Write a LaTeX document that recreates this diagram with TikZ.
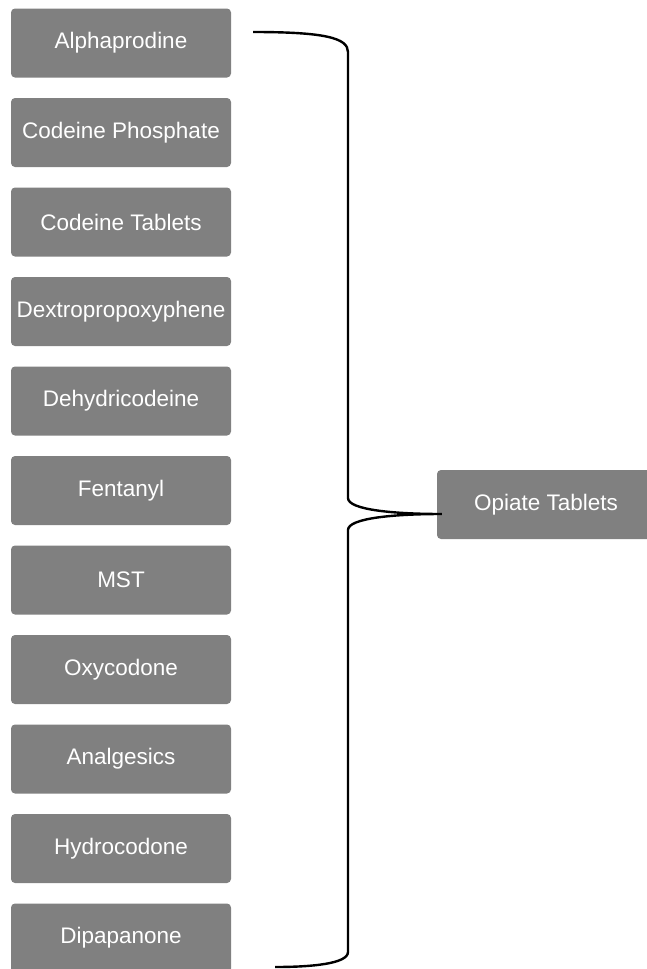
\documentclass[tikz,border=0pt]{standalone}
\usepackage{fontspec}
\setmainfont{Liberation Sans}
\begin{document}
\begin{tikzpicture}[x=1pt,y=-1pt,
  item/.style={fill=black!50, rounded corners=4pt, minimum width=220pt, minimum height=69pt,
    inner sep=0pt, text=white, font=\fontsize{22.5}{25}\selectfont, anchor=center},
  brace/.style={draw=black, line width=2.4pt}]
\useasboundingbox (0,0) rectangle (647,969);
\clip (0,0) rectangle (647,969);
\node[item] (a1) at (121,43) {Alphaprodine};
\node[item] (a2) at (121,132.5) {Codeine Phosphate};
\node[item] (a3) at (121,222) {Codeine Tablets};
\node[item] (a4) at (121,311.5) {Dextropropoxyphene};
\node[item] (a5) at (121,401) {Dehydricodeine};
\node[item] (a6) at (121,490.5) {Fentanyl};
\node[item] (a7) at (121,580) {MST};
\node[item] (a8) at (121,669.5) {Oxycodone};
\node[item] (a9) at (121,759) {Analgesics};
\node[item] (a10) at (121,848.5) {Hydrocodone};
\node[item] (a11) at (121,938) {Dipapanone};
\node[item, minimum width=218pt] (op) at (546,504.5) {Opiate Tablets};
\coordinate (top) at (253,32);
\coordinate (bot) at (275,967);
\coordinate (tip) at ([xshift=5pt,yshift=-9.5pt]op.west);
\draw[brace] (top) .. controls (325,32) and (348,38) .. (348,52)
  -- (348,498) .. controls (348,510) and (395,514) .. (tip)
  .. controls (395,514) and (348,518) .. (348,530)
  -- (348,952) .. controls (348,964) and (310,967) .. (bot);
\end{tikzpicture}
\end{document}
